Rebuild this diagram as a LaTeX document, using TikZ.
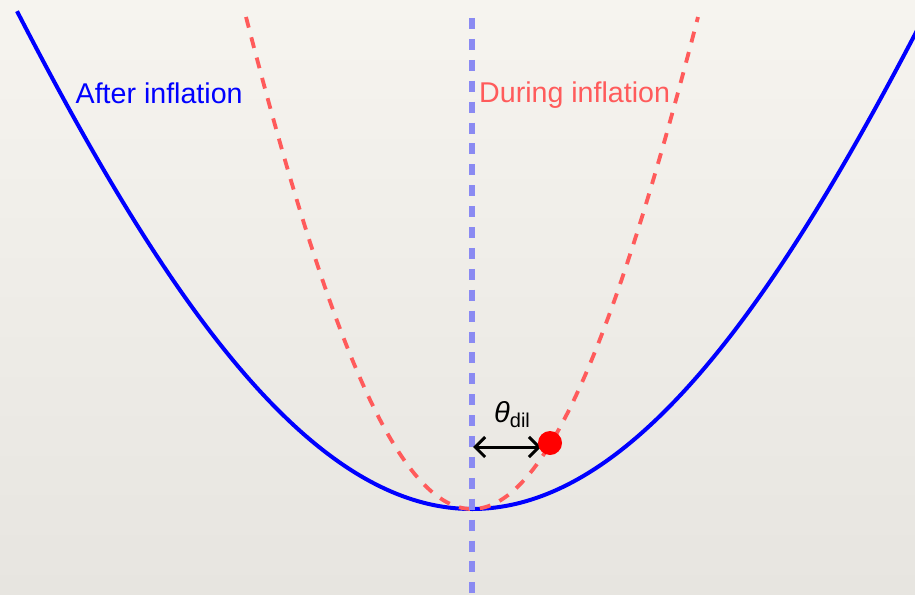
\documentclass[tikz,border=0pt]{standalone}
\usepackage{fontspec}
\setmainfont{Liberation Sans}
\usetikzlibrary{arrows.meta}
\definecolor{bgtop}{HTML}{F6F4EF}
\definecolor{bgbot}{HTML}{E7E5E0}
\definecolor{dashblue}{HTML}{8A8AF2}
\definecolor{dashred}{HTML}{FF5B5B}
\tikzset{
  bluecurve/.style={draw=blue, line width=4pt},
  redcurve/.style={draw=dashred, line width=3.8pt, dash pattern=on 11pt off 10pt},
  vdash/.style={draw=dashblue, line width=5.5pt, dash pattern=on 11pt off 9.9pt},
  label/.style={anchor=base west, inner sep=0pt, font=\fontsize{28.6}{32}\selectfont},
  dblarrow/.style={draw=black, line width=3pt, {Straight Barb[length=10pt,width=20pt]}-{Straight Barb[length=10pt,width=20pt]}},
  ball/.style={circle, fill=red, minimum size=24pt, inner sep=0pt}
}
\begin{document}
\begin{tikzpicture}[x=1pt,y=-1pt]
\shade[top color=bgtop,bottom color=bgbot] (0,0) rectangle (915,594);
\useasboundingbox (0,0) rectangle (915,594);
% after inflation potential
\draw[bluecurve] plot[domain=-4.55:4.45, samples=160, smooth] ({472+100*\x},{509-26.8*\x*\x+0.133*\x*\x*\x*\x});
% during inflation potential
\draw[redcurve] plot[domain=-4.52:4.52, samples=160, smooth] ({472+50*\x},{509-26.8*\x*\x+0.133*\x*\x*\x*\x});
% vertical axis
\coordinate (vtop) at (472,18);
\coordinate (vbot) at (472,600);
\draw[vdash] (vtop) -- (vbot);
% labels
\node[label, text=blue] (after) at (75.5,103) {After inflation};
\node[label, text=dashred] (during) at (479,102) {During inflation};
% displacement arrow
\coordinate (aL) at (473,447);
\coordinate (aR) at (541,447);
\draw[dblarrow] (aL) -- (aR);
\node[ball] (dot) at (550,443) {};
\node[anchor=base west, inner sep=0pt] (theta) at (494,422) {\fontsize{29}{30}\selectfont\itshape θ\upshape\raisebox{-5pt}{\fontsize{20}{22}\selectfont dil}};
\end{tikzpicture}
\end{document}
